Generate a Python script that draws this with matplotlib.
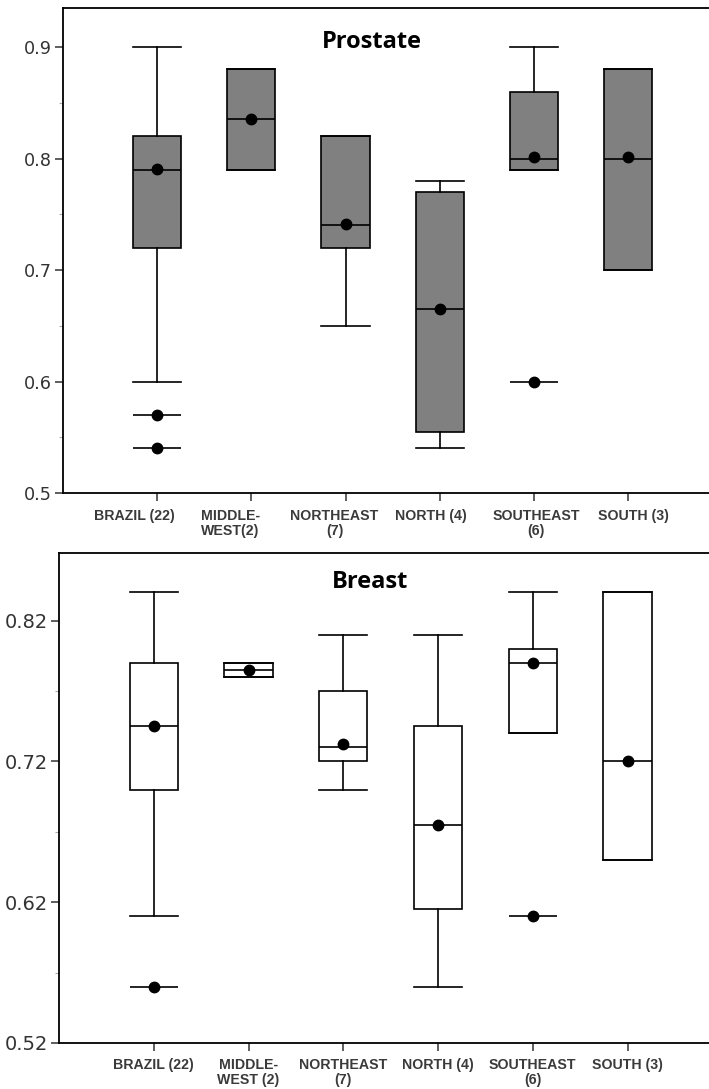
'''Prostate and breast box plots by Brazilian region.'''

import matplotlib
matplotlib.use('Agg')
import matplotlib.pyplot as plt
from matplotlib.ticker import FixedLocator
from matplotlib.transforms import ScaledTranslation

# tick labels
labels_top = ['BRAZIL (22)', 'MIDDLE-\nWEST(2)', 'NORTHEAST\n(7)',
              'NORTH (4)', 'SOUTHEAST\n(6)', 'SOUTH (3)']
labels_bottom = ['BRAZIL (22)', 'MIDDLE-\nWEST (2)', 'NORTHEAST\n(7)',
                 'NORTH (4)', 'SOUTHEAST\n(6)', 'SOUTH (3)']

# prostate
prostate_lo = [0.60, 0.79, 0.65, 0.54, 0.79, 0.70]
prostate_q1 = [0.72, 0.79, 0.72, 0.555, 0.79, 0.70]
prostate_med = [0.79, 0.835, 0.74, 0.665, 0.80, 0.80]
prostate_q3 = [0.82, 0.88, 0.82, 0.77, 0.86, 0.88]
prostate_hi = [0.90, 0.88, 0.82, 0.78, 0.90, 0.88]
prostate_mean = [0.791, 0.835, 0.741, 0.665, 0.801, 0.801]
prostate_out = [[0.57, 0.54], [], [], [], [0.60], []]

# breast
breast_lo = [0.61, 0.78, 0.70, 0.56, 0.74, 0.65]
breast_q1 = [0.70, 0.78, 0.72, 0.615, 0.74, 0.65]
breast_med = [0.745, 0.785, 0.73, 0.675, 0.79, 0.72]
breast_q3 = [0.79, 0.79, 0.77, 0.745, 0.80, 0.84]
breast_hi = [0.84, 0.79, 0.81, 0.81, 0.84, 0.84]
breast_mean = [0.745, 0.785, 0.732, 0.675, 0.79, 0.72]
breast_out = [[0.56], [], [], [], [0.61], []]

WIDTH = 0.51
LW = 1.2
LABEL_FONT = dict(family='Liberation Sans', fontsize=10.2, fontweight='bold',
                  color='#3a3a3a', linespacing=1.05)
# the top panel's category labels sit a little left of their ticks (px)
TOP_SHIFT = [-23, -21, -11, -9, 2, 5]


def stats(lo, q1, med, q3, hi):
    '''Build bxp stats dicts'''
    return [dict(whislo=a, q1=b, med=c, q3=d, whishi=e, fliers=[])
            for a, b, c, d, e in zip(lo, q1, med, q3, hi)]


def panel(ax, st, means, outs, fill, labels, title, yticks, ylim, minor,
          tick_size, title_y, shift=None):
    '''Draw one box panel'''
    pos = list(range(1, len(st) + 1))
    ax.bxp(st, positions=pos, widths=WIDTH, capwidths=WIDTH,
           patch_artist=True, showfliers=False,
           boxprops=dict(facecolor=fill, edgecolor='black', linewidth=LW),
           medianprops=dict(color='black', linewidth=LW),
           whiskerprops=dict(color='black', linewidth=LW),
           capprops=dict(color='black', linewidth=LW))
    ax.plot(pos, means, 'o', color='black', markersize=7.5, zorder=5)
    for p, vals in zip(pos, outs):
        for v in vals:
            ax.hlines(v, p - WIDTH / 2, p + WIDTH / 2, color='black',
                      linewidth=LW)
            ax.plot(p, v, 'o', color='black', markersize=7.5, zorder=5)

    ax.set_xlim(0, 6.86)
    ax.set_ylim(*ylim)
    ax.set_xticks(pos)
    if shift:
        # labels drawn by hand so they can be nudged off their ticks
        ax.set_xticklabels([])
        base = ax.get_xaxis_transform()
        for p, lab, dx in zip(pos, labels, shift):
            off = ScaledTranslation(dx / 100, -16 / 100,
                                    ax.figure.dpi_scale_trans)
            ax.text(p, 0, lab, transform=base + off, ha='center', va='top',
                    multialignment='center', **LABEL_FONT)
    else:
        ax.set_xticklabels(labels, va='top', **LABEL_FONT)
    ax.set_yticks(yticks)
    ax.set_yticklabels([f'{t:g}' for t in yticks], fontsize=tick_size,
                       color='#333333')
    ax.yaxis.set_minor_locator(FixedLocator(minor))
    ax.tick_params(axis='both', which='major', length=6, width=1.1,
                   color='#333333', pad=2)
    ax.tick_params(axis='y', which='minor', length=3, width=0.8,
                   color='#aaaaaa')
    ax.tick_params(axis='x', pad=5)
    for s in ['left', 'bottom', 'top']:
        ax.spines[s].set_linewidth(1.3)
    ax.spines['right'].set_visible(False)
    ax.text(0.478, title_y, title, transform=ax.transAxes, ha='center',
            va='center', family='Open Sans', fontweight='bold', fontsize=17)


fig = plt.figure(figsize=(7.09, 10.89), dpi=100)
ax1 = fig.add_axes([63 / 709, 1 - 493 / 1089, 1 - 63 / 709, 485 / 1089])
ax2 = fig.add_axes([59 / 709, 1 - 1043 / 1089, 1 - 59 / 709, 490 / 1089])

panel(ax1, stats(prostate_lo, prostate_q1, prostate_med, prostate_q3,
                 prostate_hi),
      prostate_mean, prostate_out, '#808080', labels_top, 'Prostate',
      [0.5, 0.6, 0.7, 0.8, 0.9], (0.5, 0.935), [0.55, 0.65, 0.75, 0.85],
      12.7, 0.93, TOP_SHIFT)
panel(ax2, stats(breast_lo, breast_q1, breast_med, breast_q3, breast_hi),
      breast_mean, breast_out, 'white', labels_bottom, 'Breast',
      [0.52, 0.62, 0.72, 0.82], (0.52, 0.868), [0.57, 0.67, 0.77],
      14, 0.94)

fig.savefig('out.png', dpi=100)
